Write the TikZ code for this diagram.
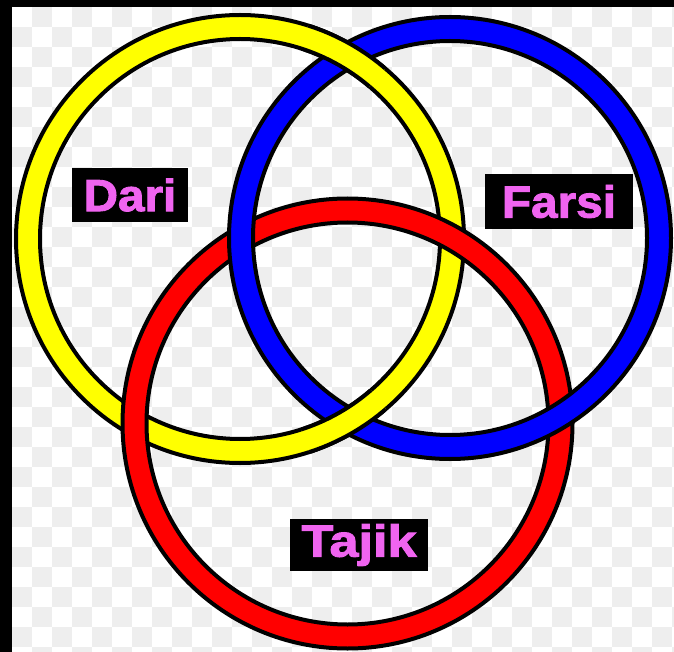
\documentclass[tikz,border=0pt]{standalone}
\usepackage{fontspec}
\setmainfont{Liberation Sans}
\newfontfamily\lblfont{Liberation Sans Bold}[FakeBold=2]
\definecolor{ringyellow}{RGB}{255,255,0}
\definecolor{ringblue}{RGB}{0,0,255}
\definecolor{ringred}{RGB}{255,0,0}
\definecolor{labelpink}{RGB}{240,100,240}
\definecolor{checkgray}{RGB}{238,238,238}
\tikzset{
  ringband/.style={draw=black, line width=4pt, even odd rule},
  lbl/.style={fill=black, text=labelpink, inner sep=0pt,
    font=\fontsize{45}{45}\selectfont\lblfont}
}
\newcommand\myring[3]{%
  \filldraw[ringband, fill=#1] (#2) circle[radius=#3pt+12pt] (#2) circle[radius=#3pt-12pt];}
\begin{document}
\begin{tikzpicture}[x=1pt,y=-1pt]
\useasboundingbox (0,0) rectangle (674,652);
% checkerboard background
\fill[white] (0,0) rectangle (674,652);
\foreach \i in {0,...,33}{
  \foreach \j in {0,...,32}{
    \pgfmathtruncatemacro\k{mod(\i+\j,2)}
    \ifnum\k=1 \fill[checkgray] (12+\i*20,7+\j*20) rectangle ++(20,20);\fi
  }
}
\coordinate (cy) at (240,239);
\coordinate (cr) at (347.5,423.5);
\coordinate (cb) at (450,238);
% rings: yellow, red, blue
\myring{ringyellow}{cy}{212}
\myring{ringred}{cr}{213}
\myring{ringblue}{cb}{209}
% yellow over blue at their crossings
\foreach \yy in {50,426}{
  \begin{scope}
    \clip (345,\yy) circle[radius=44pt];
    \myring{ringyellow}{cy}{212}
  \end{scope}
}
% frame
\fill[black] (0,0) rectangle (674,7);
\fill[black] (0,0) rectangle (12,652);
% labels
\node[lbl, minimum width=116pt, minimum height=54pt] (dari) at (130,195) {\scalebox{1.06}[1]{Dari}};
\node[lbl, minimum width=148pt, minimum height=55pt] (farsi) at (559,201.5) {\scalebox{1.06}[1]{Farsi}};
\node[lbl, minimum width=138pt, minimum height=52pt] (tajik) at (359,545) {\scalebox{1.16}[1]{Tajik}};
\end{tikzpicture}
\end{document}
